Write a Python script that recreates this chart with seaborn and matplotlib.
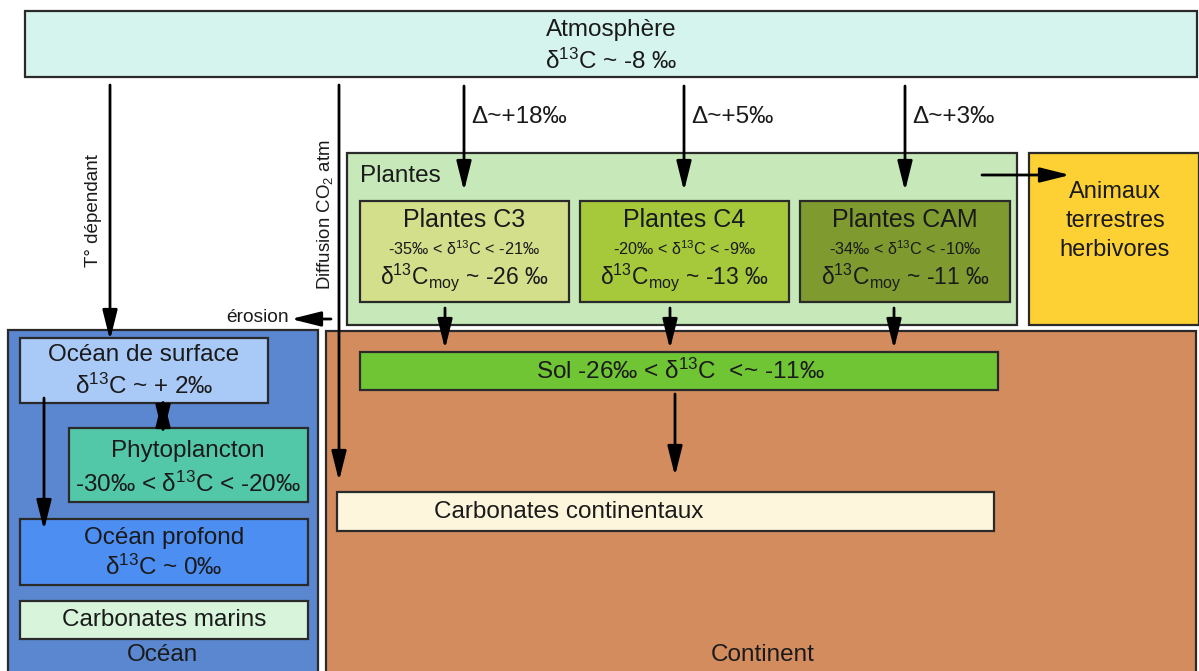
import matplotlib
matplotlib.use("Agg")
import matplotlib.pyplot as plt
import seaborn as sns
from matplotlib.patches import Rectangle

# δ13C values (‰)
atmo_delta = -8
plant_types = ["C3", "C4", "CAM"]
plant_fractionation = [18, 5, 3]
plant_low = [-35, -20, -34]
plant_high = [-21, -9, -10]
plant_mean = [-26, -13, -11]
ocean_surface_delta = 2
ocean_deep_delta = 0
phyto_low, phyto_high = -30, -20
soil_low, soil_high = -26, -11

sns.set_theme(style="white")
plt.rcParams["font.family"] = ["Liberation Sans", "DejaVu Sans"]
plt.rcParams["mathtext.fontset"] = "custom"
plt.rcParams["mathtext.rm"] = "Liberation Sans"
plt.rcParams["mathtext.default"] = "regular"

fig = plt.figure(figsize=(11.99, 6.71), dpi=100)
ax = fig.add_axes([0, 0, 1, 1])
ax.set_xlim(0, 1199)
ax.set_ylim(671, 0)
ax.axis("off")

EDGE = "#2a2a2a"
D13 = "δ$^{13}$C"
BIG = 17.5


def box(x0, y0, x1, y1, color, lw=1.6):
    ax.add_patch(Rectangle((x0, y0), x1 - x0, y1 - y0, facecolor=color,
                           edgecolor=EDGE, lw=lw, zorder=1))


def label(x, y, s, size=BIG, **kw):
    ax.text(x, y, s, ha=kw.pop("ha", "center"), va="center", fontsize=size,
            color="#1a1a1a", zorder=5, **kw)


def arrow(x0, y0, x1, y1, style="-|>"):
    ax.annotate("", xy=(x1, y1), xytext=(x0, y0), zorder=4,
                arrowprops=dict(arrowstyle=style + ",head_length=1.8,head_width=0.45",
                                lw=2, color="black", shrinkA=0, shrinkB=0,
                                mutation_scale=10))


# big zones
box(8, 330, 318, 690, "#5a87cf")
box(326, 331, 1196, 690, "#d38c5e")
box(25, 11, 1197, 77, "#d6f4ee")
box(347, 153, 1017, 325, "#c7e8b9")
box(1029, 153, 1199, 325, "#fdd133")

label(611, 30, "Atmosphère")
label(611, 61, f"{D13} ~ {atmo_delta} ‰")

# plants
label(360, 176, "Plantes", ha="left")
plant_x = [(360, 569), (580, 789), (800, 1010)]
plant_colors = ["#d3df8a", "#a6c93c", "#7f9b2f"]
atm_arrow_x = [464, 684, 905]
soil_arrow_x = [445, 670, 894]
for i, name in enumerate(plant_types):
    x0, x1 = plant_x[i]
    xc = (x0 + x1) / 2
    box(x0, 201, x1, 302, plant_colors[i])
    label(xc, 220, f"Plantes {name}", 18)
    label(xc, 249, f"{plant_low[i]}‰ < {D13} < {plant_high[i]}‰", 11.7)
    label(xc, 277, f"{D13}$_{{moy}}$ ~ {plant_mean[i]} ‰", 16.5)
    arrow(atm_arrow_x[i], 86, atm_arrow_x[i], 191)
    label(atm_arrow_x[i] + 7, 117, f"Δ~+{plant_fractionation[i]}‰", 17.5, ha="left")
    arrow(soil_arrow_x[i], 308, soil_arrow_x[i], 349)

arrow(982, 175, 1070, 175)
label(1115, 192, "Animaux", 17)
label(1115, 221, "terrestres", 17)
label(1115, 250, "herbivores", 17)

# ocean
box(20, 338, 268, 403, "#a9c9f7")
label(144, 355, "Océan de surface")
label(144, 386, f"{D13} ~ + {ocean_surface_delta}‰")
box(69, 428, 308, 502, "#52c8a9")
label(188, 451, "Phytoplancton")
label(188, 484, f"{phyto_low}‰ < {D13} < {phyto_high}‰")
box(20, 519, 308, 585, "#4d8ef2")
label(164, 538, "Océan profond")
label(164, 567, f"{D13} ~ {ocean_deep_delta}‰")
box(20, 601, 308, 639, "#d8f5dc")
label(164, 620, "Carbonates marins")
label(163, 655, "Océan")

arrow(110, 85, 110, 340)
label(93, 211, "T° dépendant", 13.6, rotation=90)
arrow(44, 398, 44, 530)
arrow(163, 397, 163, 435, style="<|-|>")

# continent
box(360, 352, 998, 390, "#70c535")
label(680, 371, f"Sol {soil_low}‰ < {D13}  <~ {soil_high}‰")
arrow(675, 394, 675, 476)
box(337, 492, 994, 531, "#fdf6dd")
label(569, 512, "Carbonates continentaux")
label(763, 655, "Continent")

arrow(339, 85, 339, 481)
label(325, 215, "Diffusion CO$_2$ atm", 13.4, rotation=90)
arrow(331, 319, 291, 319)
label(289, 318, "érosion", 13.8, ha="right")

plt.savefig("out.png", dpi=100)
